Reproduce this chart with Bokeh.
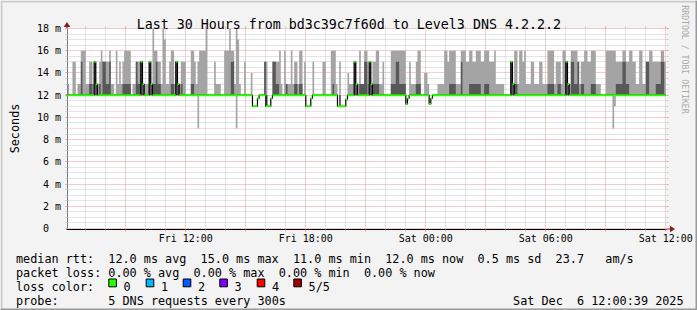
import math
from bokeh.plotting import figure
from bokeh.models import FixedTicker, LinearAxis, Grid
from bokeh.core.properties import value
from bokeh.embed import file_html
from bokeh.resources import INLINE

MONO = "DejaVu Sans Mono"

# ---------------- data (5-minute steps, step 0 = Fri 06:00) ----------------
N_STEPS = 360
STEPS_PER_HOUR = 12
base_rtt = 12      # ms, the usual median
floor_rtt = 13     # ms, the smoke reaches at least this high except in the gaps below

# steps where there is no smoke above the median at all
gap_start = [0, 2, 6, 29, 39, 72, 85, 93, 105, 108, 116, 130, 142, 149, 156, 191, 213, 220, 263, 321]
gap_len = [1, 2, 1, 1, 1, 3, 4, 2, 2, 3, 3, 1, 1, 5, 3, 4, 2, 3, 4, 3]

# smoke runs: start step, number of steps, max rtt (ms), upper-quartile rtt (ms)
seg_start = [1, 4, 7, 9, 10, 12, 14, 17, 18, 20, 21, 22, 24, 26, 30, 32, 34, 35, 40, 42,
             43, 45, 46, 50, 51, 52, 53, 54, 55, 56, 58, 59, 61, 62, 63, 66, 67, 69, 70, 75,
             77, 79, 80, 81, 84, 89, 90, 95, 98, 99, 102, 103, 104, 107, 111, 119, 120, 124, 126, 128,
             131, 132, 135, 137, 140, 143, 148, 154, 159, 160, 161, 162, 164, 169, 173, 174, 176, 177, 179, 182,
             183, 184, 186, 188, 190, 195, 198, 200, 206, 210, 211, 215, 223, 225, 227, 229, 230, 234, 237, 238,
             240, 242, 244, 246, 249, 251, 254, 257, 260, 267, 268, 269, 272, 274, 275, 276, 279, 281, 284, 286,
             289, 294, 295, 298, 300, 301, 303, 305, 307, 309, 311, 313, 315, 318, 324, 330, 334, 336, 338, 340,
             342, 344, 348, 350, 352, 354, 357, 359]
seg_len = [1, 2, 1, 1, 2, 1, 2, 1, 1, 1, 1, 2, 2, 1, 1, 1, 1, 4, 1, 1,
           2, 1, 1, 1, 1, 1, 1, 1, 1, 1, 1, 1, 1, 1, 2, 1, 1, 1, 2, 2,
           1, 1, 1, 3, 1, 1, 2, 3, 1, 2, 1, 1, 1, 1, 1, 1, 1, 2, 2, 1,
           1, 1, 1, 2, 2, 1, 1, 2, 1, 1, 1, 1, 1, 1, 1, 1, 1, 2, 2, 1,
           1, 2, 2, 2, 1, 3, 2, 4, 1, 1, 2, 2, 2, 2, 2, 1, 4, 2, 1, 2,
           2, 2, 2, 3, 2, 3, 3, 1, 3, 1, 1, 2, 2, 1, 1, 2, 2, 2, 2, 2,
           4, 1, 2, 2, 1, 1, 2, 2, 1, 2, 2, 2, 3, 3, 6, 4, 2, 2, 2, 2,
           2, 2, 2, 2, 2, 3, 2, 1]
seg_max = [13, 15, 13, 16, 16, 13, 15, 15, 13, 15, 16, 15, 15, 16, 16, 15, 15, 16, 13, 15,
           15, 15, 13, 15, 13, 18, 16, 16, 15, 15, 18, 17, 13, 15, 16, 15, 13, 15, 15, 16,
           15, 15, 16, 16, 18, 15, 13, 16, 18, 16, 18, 17, 13, 15, 14, 15, 15, 15, 15, 16,
           16, 13, 16, 15, 16, 15, 15, 15, 16, 16, 16, 13, 15, 14, 15, 13, 16, 13, 16, 15,
           13, 15, 16, 13, 15, 16, 16, 16, 15, 15, 16, 14, 13, 13, 16, 15, 16, 13, 16, 16,
           15, 16, 15, 16, 15, 16, 15, 16, 13, 15, 13, 16, 16, 15, 16, 13, 15, 13, 15, 13,
           16, 15, 15, 16, 15, 13, 16, 16, 15, 15, 16, 15, 16, 13, 16, 15, 16, 15, 16, 15,
           13, 16, 15, 16, 15, 15, 16, 15]
seg_q3 = [12, 12, 12, 15, 12, 12, 13, 15, 13, 13, 12, 15, 13, 15, 12, 12, 13, 13, 12, 15,
          13, 15, 13, 15, 13, 13, 13, 15, 13, 13, 12, 12, 12, 12, 13, 15, 13, 13, 12, 13,
          12, 12, 12, 12, 12, 12, 12, 12, 12, 15, 12, 12, 12, 12, 12, 15, 12, 15, 13, 12,
          12, 13, 12, 13, 13, 12, 12, 12, 12, 13, 12, 12, 12, 12, 15, 13, 13, 13, 15, 15,
          13, 13, 13, 12, 12, 13, 15, 13, 12, 13, 13, 12, 12, 12, 12, 12, 13, 12, 15, 12,
          12, 13, 13, 13, 12, 13, 12, 12, 12, 15, 13, 13, 12, 12, 12, 12, 12, 12, 12, 12,
          13, 12, 13, 12, 15, 13, 15, 13, 15, 13, 12, 12, 13, 12, 12, 13, 15, 13, 12, 12,
          12, 12, 15, 12, 12, 13, 15, 12]

# median rtt where it differs from 12 ms
med_step = [17, 18, 45, 46, 50, 51, 66, 67, 112, 113, 114, 115, 120, 121, 122, 123,
            144, 145, 146, 147, 163, 164, 165, 166, 167, 168, 173, 174, 182, 183,
            204, 205, 218, 219, 267, 268, 300, 301]
med_val = [15, 13, 15, 13, 15, 13, 15, 13, 11, 11, 11, 11.7, 11, 11, 11, 11.7,
           11, 11, 11, 11.7, 11, 11, 11, 11, 11, 11.6, 15, 13, 15, 13,
           11.2, 11.7, 11.2, 11.7, 15, 13, 15, 13]
# minimum rtt where it drops below the median
low_step = [79, 102, 328, 329]
low_val = [9, 9, 9, 11]

# axes
x_start, x_end = 0.035, 30.035
y_start, y_end = 0, 18
x_tick_hours = [3, 6, 9, 12, 15, 18, 21, 24, 27, 30]
x_tick_labels = ["", "Fri 12:00", "", "Fri 18:00", "", "Sat 00:00", "", "Sat 06:00", "", "Sat 12:00"]
x_minor_hours = [1, 2, 4, 5, 7, 8, 10, 11, 13, 14, 16, 17, 19, 20, 22, 23, 25, 26, 28, 29]
y_ticks = [0, 2, 4, 6, 8, 10, 12, 14, 16, 18]
y_tick_labels = ["0\u00a0\u00a0", "2 m", "4 m", "6 m", "8 m", "10 m", "12 m", "14 m", "16 m", "18 m"]
y_minor = [0.5, 1, 1.5, 2.5, 3, 3.5, 4.5, 5, 5.5, 6.5, 7, 7.5, 8.5, 9, 9.5, 10.5, 11, 11.5,
           12.5, 13, 13.5, 14.5, 15, 15.5, 16.5, 17, 17.5]

title_text = "Last 30 Hours from bd3c39c7f60d to Level3 DNS 4.2.2.2"
y_label = "Seconds"
watermark = "RRDTOOL / TOBI OETIKER"
legend_rtt = [("median rtt:", 0), ("12.0 ms avg", 13), ("15.0 ms max", 26), ("11.0 ms min", 39),
              ("12.0 ms now", 52), ("0.5 ms sd", 65), ("23.7", 76), ("am/s", 83)]
legend_loss = [("packet loss:", 0), ("0.00 % avg", 13), ("0.00 % max", 25), ("0.00 % min", 37),
               ("0.00 % now", 49)]
loss_title = "loss color:"
loss_labels = ["0", "1", "2", "3", "4", "5/5"]
loss_colors = ["#26ff00", "#00b8ff", "#0059ff", "#7e00ff", "#ff0000", "#a00000"]
probe_text = [("probe:", 0), ("5 DNS requests every 300s", 13)]
stamp_text = ["Sat Dec", "6 12:00:39 2025"]

# ---------------- derived per-step series ----------------
p_med = [base_rtt] * N_STEPS
for s, v in zip(med_step, med_val):
    p_med[s] = v
p_max = [floor_rtt] * N_STEPS
for s, n in zip(gap_start, gap_len):
    for i in range(s, s + n):
        p_max[i] = base_rtt
p_q3 = [base_rtt] * N_STEPS
for i, m in enumerate(p_med):
    if m < base_rtt:          # all pings at the (lower) median: no smoke
        p_max[i] = m
        p_q3[i] = m
for s, n, m, q in zip(seg_start, seg_len, seg_max, seg_q3):
    for i in range(s, s + n):
        p_max[i] = m
        p_q3[i] = q
p_min = [base_rtt] * N_STEPS
for s, v in zip(low_step, low_val):
    p_min[s] = v
p_min = [min(a, b) for a, b in zip(p_min, p_med)]
p_q1 = [min(base_rtt, b) for b in p_med]
p_q3 = [max(a, b) for a, b in zip(p_q3, p_q1)]

xs = [i / STEPS_PER_HOUR for i in range(N_STEPS + 1)]
def ext(a):
    return a + [a[-1]]

# ---------------- canvas <-> data helpers (for decorations only) ----------------
W, H = 697, 310
PX_LEFT, PX_PER_HOUR = 65.3, 20.0          # canvas x of hour 0 and pixels per hour
PX_BOTTOM, PX_PER_MS = 228.0, 200.0 / 18   # canvas y of 0 ms and pixels per ms

def hx(px):
    return (px - PX_LEFT) / PX_PER_HOUR
def my(py):
    return (PX_BOTTOM - py) / PX_PER_MS

MGRID = "#e79a9a"
GRID = "#c8c8c8"
BG = "#f3f3f3"

p = figure(width=W, height=H, min_border=0,
           x_range=(hx(0), hx(W)), y_range=(my(H), my(0)),
           x_axis_location=None, y_axis_location=None,
           output_backend="svg", toolbar_location=None,
           background_fill_color=BG, border_fill_color=BG,
           outline_line_color=None)
p.grid.visible = False

# white canvas of the graph
p.quad(left=[x_start], right=[x_end], bottom=[y_start], top=[y_end],
       fill_color="white", line_color=None, level="image")

xt = FixedTicker(ticks=x_tick_hours, minor_ticks=x_minor_hours)
yt = FixedTicker(ticks=y_ticks, minor_ticks=y_minor)

# grids
try:
    gx = Grid(dimension=0, ticker=xt, cross_bounds=(y_start, y_end))
    gy = Grid(dimension=1, ticker=yt, cross_bounds=(x_start, x_end))
    for g in (gx, gy):
        g.grid_line_color = MGRID
        g.grid_line_dash = "1 1"
        g.minor_grid_line_color = GRID
        g.minor_grid_line_dash = "1 1"
        p.add_layout(g)
except Exception:
    p.segment(x0=x_minor_hours, x1=x_minor_hours, y0=[y_start] * len(x_minor_hours),
              y1=[y_end] * len(x_minor_hours), line_color=GRID, line_dash="1 1", level="underlay")
    p.segment(x0=[x_start] * len(y_minor), x1=[x_end] * len(y_minor), y0=y_minor, y1=y_minor,
              line_color=GRID, line_dash="1 1", level="underlay")
    p.segment(x0=x_tick_hours, x1=x_tick_hours, y0=[y_start] * len(x_tick_hours),
              y1=[y_end] * len(x_tick_hours), line_color=MGRID, line_dash="1 1", level="underlay")
    p.segment(x0=[x_start] * len(y_ticks), x1=[x_end] * len(y_ticks), y0=y_ticks, y1=y_ticks,
              line_color=MGRID, line_dash="1 1", level="underlay")

def style_axis(ax, labels):
    ax.major_tick_out = 2
    ax.major_tick_in = 0
    ax.minor_tick_out = 2
    ax.minor_tick_in = 0
    ax.major_tick_line_color = MGRID
    ax.minor_tick_line_color = GRID
    if labels:
        ax.major_label_text_font = MONO
        ax.major_label_text_font_size = "10px"
        ax.major_label_text_color = "black"
    else:
        ax.major_label_text_color = None
        ax.axis_line_color = None

xa = LinearAxis(ticker=xt, fixed_location=my(228.5), bounds=(x_start, x_end))
style_axis(xa, True)
xa.major_label_overrides = dict(zip(x_tick_hours, x_tick_labels))
xa.axis_line_color = "black"
xa.major_label_standoff = 2
p.add_layout(xa, "below")

ya = LinearAxis(ticker=yt, fixed_location=hx(66.5), bounds=(y_start, y_end))
style_axis(ya, True)
ya.major_label_overrides = dict(zip(y_ticks, y_tick_labels))
ya.axis_line_color = "#7a7a7a"
ya.major_label_standoff = 4
p.add_layout(ya, "left")

ra = LinearAxis(ticker=yt, fixed_location=x_end, bounds=(y_start, y_end))
style_axis(ra, False)
p.add_layout(ra, "right")
ta = LinearAxis(ticker=xt, fixed_location=y_end, bounds=(x_start, x_end))
style_axis(ta, False)
p.add_layout(ta, "above")

# smoke
p.varea_step(x=xs, y1=ext(p_min), y2=ext(p_max), step_mode="after", fill_color="#a4a4a4")
p.varea_step(x=xs, y1=ext(p_q1), y2=ext(p_q3), step_mode="after", fill_color="#585858")
# median: black step line with loss-coloured band
p.step(x=xs, y=ext(p_med), mode="after", line_color="black", line_width=1.2)
band = 0.09
p.varea_step(x=xs, y1=[v - band for v in ext(p_med)], y2=[v + band for v in ext(p_med)],
             step_mode="after", fill_color=loss_colors[0])

# ---------------- decorations ----------------
# 3-D image border
p.quad(left=[hx(0), hx(0), hx(0), hx(W - 2)], right=[hx(W), hx(2), hx(W), hx(W)],
       top=[my(0), my(0), my(H - 2), my(0)], bottom=[my(2), my(H), my(H), my(H)],
       fill_color=["#cbcbcb", "#cbcbcb", "#999999", "#999999"], line_color=None)

# axis arrows
ARROW = "#8b1a1a"
p.patches(xs=[[hx(v) for v in (66.5, 69.8, 67.0, 67.0, 66.0, 66.0, 63.2)],
              [hx(v) for v in (666.0, 669.5, 669.5, 674.5, 669.5, 669.5, 666.0)]],
          ys=[[my(v) for v in (21.5, 26.5, 26.5, 28.0, 28.0, 26.5, 26.5)],
              [my(v) for v in (228.0, 228.0, 225.2, 228.5, 231.8, 229.0, 229.0)]],
          fill_color=ARROW, line_color=None)

def lab(texts, pxs, pys, size, align="left", color="black", angle=0.0):
    p.text(x=[hx(v) for v in pxs], y=[my(v) for v in pys], text=texts,
           text_font=value(MONO), text_font_size=value(size), text_color=color,
           text_align=align, text_baseline="alphabetic", angle=angle)

lab([title_text], [348.3], [24], "13.3px", align="center")
lab([y_label], [14], [128], "11.8px", align="center", angle=math.pi / 2)
lab([watermark], [684.3], [59], "8.2px", align="center", color="#aaaaaa", angle=-math.pi / 2)

CW = 7.1
X0 = 15.5
lab([t for t, c in legend_rtt], [X0 + c * CW for t, c in legend_rtt], [258.3] * len(legend_rtt), "11.8px")
lab([t for t, c in legend_loss], [X0 + c * CW for t, c in legend_loss], [272.3] * len(legend_loss), "11.8px")
lab([loss_title], [X0], [286.3], "11.8px")
box_x = [108.3, 145.7, 182.7, 219.3, 256.7, 293.3]
p.quad(left=[hx(b) for b in box_x], right=[hx(b + 7.6) for b in box_x],
       top=[my(278.5)] * 6, bottom=[my(286.3)] * 6,
       fill_color=loss_colors, line_color="black", line_width=1)
lab(loss_labels, [b + 14.8 for b in box_x], [286.3] * 6, "11.8px")
lab([t for t, c in probe_text], [X0 + c * CW for t, c in probe_text], [300.3] * len(probe_text), "11.8px")
lab(stamp_text, [512.6, 512.6 + 9 * CW], [300.3, 300.3], "11.8px")

open("out.html", "w").write(file_html(p, INLINE))
